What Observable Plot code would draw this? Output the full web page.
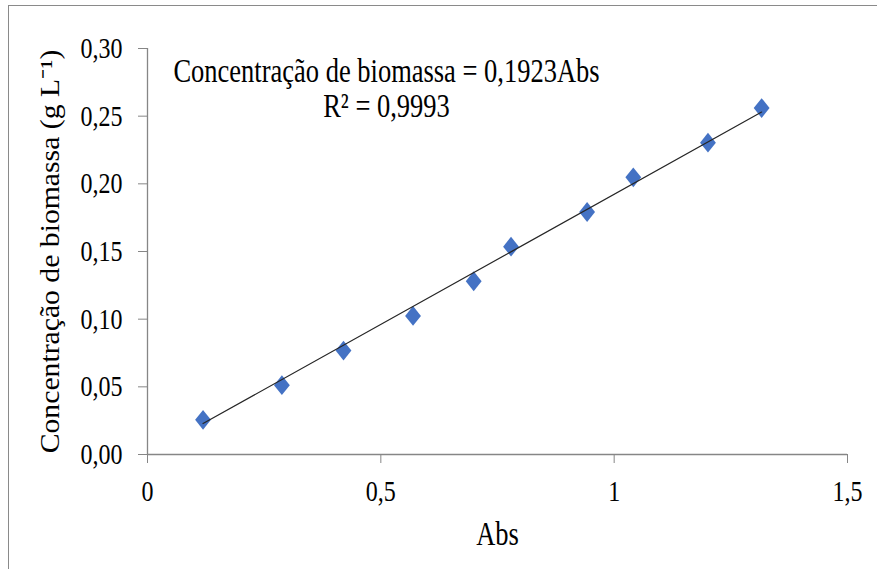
<!DOCTYPE html>
<html>
<head>
<meta charset="utf-8">
<script src="https://cdn.jsdelivr.net/npm/d3@7"></script>
<script src="https://cdn.jsdelivr.net/npm/@observablehq/plot@0.6"></script>
<style>
  html, body { margin: 0; padding: 0; background: #fff; }
  #wrap { position: relative; width: 877px; height: 569px; overflow: hidden; }
  #frame { position: absolute; left: 8px; top: 5px; width: 900px; height: 600px;
           border-top: 1.5px solid #8a8a8a; border-left: 1.5px solid #8a8a8a; pointer-events: none; }
</style>
</head>
<body>
<div id="wrap"><div id="frame"></div></div>
<script>
// Calibration curve: absorbance vs. biomass concentration
const absorbance = [0.119, 0.288, 0.420, 0.569, 0.699, 0.779, 0.942, 1.041, 1.201, 1.316];
const concentration = [0.0256, 0.0512, 0.0768, 0.1024, 0.128, 0.1536, 0.1792, 0.2048, 0.2304, 0.256];
const slope = 0.1923;
const rSquared = "0,9993";
const xTicks = [0, 0.5, 1, 1.5];
const yTicks = [0, 0.05, 0.10, 0.15, 0.20, 0.25, 0.30];

const points = absorbance.map((a, i) => ({abs: a, conc: concentration[i]}));
const xMin = d3.min(absorbance), xMax = d3.max(absorbance);
const fit = [xMin, xMax].map(a => ({abs: a, conc: slope * a}));

const comma = s => s.replace(".", ",");

// Diamond a little taller than wide
const tallDiamond = {
  draw(ctx, size) {
    const k = Math.sqrt(size / Math.PI);
    const hw = k * 0.88, hh = k * 1.1;
    ctx.moveTo(0, -hh);
    ctx.lineTo(hw, 0);
    ctx.lineTo(0, hh);
    ctx.lineTo(-hw, 0);
    ctx.closePath();
  }
};

const serif = "'Liberation Serif', 'Times New Roman', serif";

const chart = Plot.plot({
  width: 877,
  height: 569,
  marginLeft: 147,
  marginRight: 30,
  marginTop: 48,
  marginBottom: 115,
  style: {fontFamily: serif, fontSize: "24px", color: "#000", background: "transparent"},
  x: {domain: [0, 1.5], ticks: xTicks, tickFormat: d => comma(String(d)), tickSize: 9, tickPadding: 16, label: null},
  y: {domain: [0, 0.3], ticks: yTicks, tickFormat: d => comma(d3.format(".2f")(d)), tickSize: 9, tickPadding: 16, label: null},
  marks: [
    Plot.ruleX([0], {stroke: "#868686", strokeWidth: 1.3}),
    Plot.ruleY([0], {stroke: "#868686", strokeWidth: 1.3}),
    Plot.dot(points, {x: "abs", y: "conc", symbol: tallDiamond, r: 9, fill: "#4472C4", stroke: "none"}),
    Plot.line(fit, {x: "abs", y: "conc", stroke: "#262626", strokeWidth: 1.2}),
    Plot.text(["Concentração de biomassa = " + comma(String(slope)) + "Abs"],
      {frameAnchor: "top-left", dx: 239, dy: 23, fontSize: 26.5, textAnchor: "middle", lineAnchor: "middle", fill: "#000"}),
    Plot.text(["R² = " + rSquared],
      {frameAnchor: "top-left", dx: 239, dy: 58, fontSize: 26.5, textAnchor: "middle", lineAnchor: "middle", fill: "#000"}),
    Plot.text(["Abs"],
      {frameAnchor: "bottom", dy: 80, fontSize: 26.5, textAnchor: "middle", lineAnchor: "middle", fill: "#000"}),
    Plot.text(["Concentração de biomassa (g L⁻¹)"],
      {frameAnchor: "left", dx: -97, rotate: -90, fontSize: 27, textAnchor: "middle", lineAnchor: "middle", fill: "#000"})
  ]
});

// tick marks in the same gray as the axis lines
chart.querySelectorAll("[aria-label='x-axis tick'], [aria-label='y-axis tick']").forEach(g => g.setAttribute("stroke", "#868686"));
// tall serif lettering
chart.querySelectorAll("text").forEach(t => {
  const tr = t.getAttribute("transform") || "";
  t.setAttribute("transform", tr + (tr.includes("rotate") ? " scale(1.1,1)" : " scale(1,1.25)"));
});

document.getElementById("wrap").prepend(chart);
</script>
</body>
</html>
